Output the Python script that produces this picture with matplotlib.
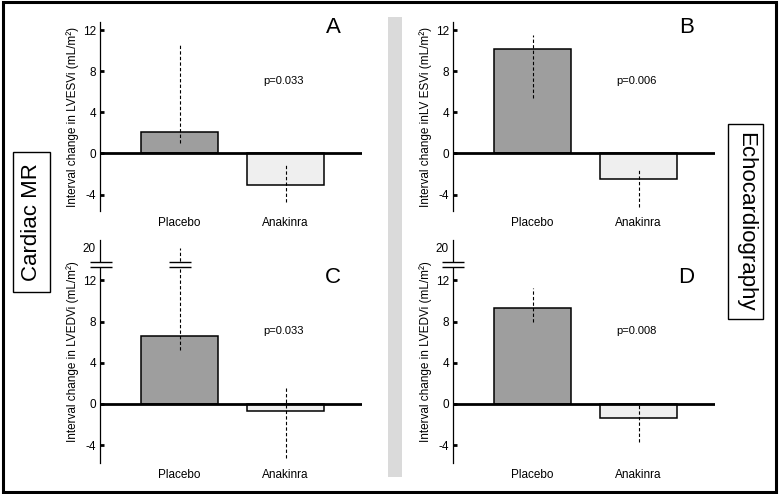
import matplotlib
matplotlib.use('Agg')
import matplotlib.pyplot as plt
from matplotlib.patches import Rectangle
import matplotlib.transforms as mtransforms
import numpy as np

plt.rcParams['font.family'] = ['Liberation Sans', 'DejaVu Sans']

# ---------------- data ----------------
categories = ['Placebo', 'Anakinra']
panel_letters = ['A', 'B', 'C', 'D']
ylabels = ['Interval change in LVESVi (mL/m²)',
           'Interval change inLV ESVi (mL/m²)',
           'Interval change in LVEDVi (mL/m²)',
           'Interval change in LVEDVi (mL/m²)']
p_values = ['p=0.033', 'p=0.006', 'p=0.033', 'p=0.008']

median_A = [2.05, -3.1]
low_A = [1.0, -4.7]
high_A = [10.7, -1.0]

median_B = [10.15, -2.5]
low_B = [5.4, -5.2]
high_B = [11.5, -1.5]

median_C = [6.6, -0.65]
low_C = [5.2, -5.2]
high_C = [20.0, 1.7]

median_D = [9.3, -1.35]
low_D = [8.0, -3.7]
high_D = [11.3, 0.0]

top_ticks = [-4, 0, 4, 8, 12]
bottom_ticks = [-4, 0, 4, 8, 12, 20]

bar_colors = ['#9e9e9e', '#efefef']

# ---------------- figure ----------------
W, H = 779, 494
fig = plt.figure(figsize=(W / 100, H / 100), dpi=100)


def rect(left, top, right, bottom):
    return [left / W, 1 - bottom / H, (right - left) / W, (bottom - top) / H]


PT = 72 / 100  # points per pixel

# broken axis scale for lower panels
BRK = 13.55
K = 0.25


def fwd(v):
    v = np.asarray(v, dtype=float)
    return np.where(v <= BRK, v, BRK + (v - BRK) * K)


def inv(v):
    v = np.asarray(v, dtype=float)
    return np.where(v <= BRK, v, BRK + (v - BRK) / K)


panels = [
    (rect(100, 22, 362, 211), median_A, low_A, high_A, (-5.6, 12.8), top_ticks, False),
    (rect(453, 22, 715, 211), median_B, low_B, high_B, (-5.6, 12.8), top_ticks, False),
    (rect(100, 240, 362, 463), median_C, low_C, high_C, (-5.73, 23.0), bottom_ticks, True),
    (rect(453, 240, 715, 463), median_D, low_D, high_D, (-5.73, 23.0), bottom_ticks, True),
]

x = [0, 1]
for i, (r, med, lo, hi, ylim, ticks, broken) in enumerate(panels):
    ax = fig.add_axes(r)
    ax.set_facecolor('none')
    if broken:
        ax.set_yscale('function', functions=(fwd, inv))
    ax.bar(x, med, width=0.726, color=bar_colors, edgecolor='black',
           linewidth=1.1, zorder=2)
    ax.vlines(x, lo, hi, colors='black', linestyles=(0, (3, 2)),
              linewidth=0.8, zorder=3)
    ax.axhline(0, color='black', lw=2.0, zorder=4)
    ax.set_xlim(-0.75, 1.72)
    ax.set_ylim(*ylim)
    for s in ['top', 'right', 'bottom']:
        ax.spines[s].set_visible(False)
    ax.spines['left'].set_linewidth(0.9)
    ax.set_yticks(ticks)
    ax.set_yticklabels([str(t) for t in ticks])
    ax.yaxis.set_minor_locator(matplotlib.ticker.NullLocator())
    ax.tick_params(axis='y', direction='in', length=3, width=2, pad=3,
                   labelsize=8.5)
    ax.set_xticks(x)
    ax.set_xticklabels(categories)
    ax.tick_params(axis='x', length=0, pad=4, labelsize=8.5)
    ax.set_ylabel(ylabels[i], fontsize=8.5, labelpad=3)
    ax.text(1.45, 12.3, panel_letters[i], fontsize=16, ha='center',
            va='center')
    ax.text(0.98, 7.1, p_values[i], fontsize=8, ha='center', va='center')

    if broken:
        # hide tick mark at 20
        ax.yaxis.get_major_ticks()[-1].tick1line.set_visible(False)
        bases = [mtransforms.blended_transform_factory(ax.transAxes, ax.transData)]
        xs = [0.0]
        if hi[0] > BRK:
            bases.append(ax.transData)
            xs.append(0.0)
        for base, xb in zip(bases, xs):
            # white gap
            ax.plot([xb], [BRK], marker='_', ms=8 * PT, mew=5 * PT,
                    color='white', transform=base, clip_on=False, zorder=6)
            for dy in (-2.6, 2.6):
                off = base + mtransforms.ScaledTranslation(0.5 / 100, dy / 100,
                                                           fig.dpi_scale_trans)
                ax.plot([xb], [BRK], marker='_', ms=23 * PT, mew=1.0,
                        color='black', transform=off, clip_on=False, zorder=7)

# gray separator band
fig.patches.append(Rectangle((388 / W, 1 - 477 / H), 14 / W, 460 / H,
                             transform=fig.transFigure, facecolor='#dadada',
                             edgecolor='none', zorder=0))

# side boxes
fig.patches.append(Rectangle((13 / W, 1 - 292 / H), 37 / W, 140 / H,
                             transform=fig.transFigure, facecolor='white',
                             edgecolor='black', lw=1.0))
fig.text(32 / W, 1 - 222 / H, 'Cardiac MR', rotation=90, fontsize=16,
         ha='center', va='center')
fig.patches.append(Rectangle((728 / W, 1 - 319 / H), 35 / W, 195 / H,
                             transform=fig.transFigure, facecolor='white',
                             edgecolor='black', lw=1.0))
fig.text(745.5 / W, 1 - 221.5 / H, 'Echocardiography', rotation=270,
         fontsize=16, ha='center', va='center')

# outer frame
fig.patches.append(Rectangle((2.5 / W, 2.5 / H), 773.5 / W, 489 / H,
                             transform=fig.transFigure, facecolor='none',
                             edgecolor='black', lw=2.2))

fig.savefig('out.png', dpi=100)
